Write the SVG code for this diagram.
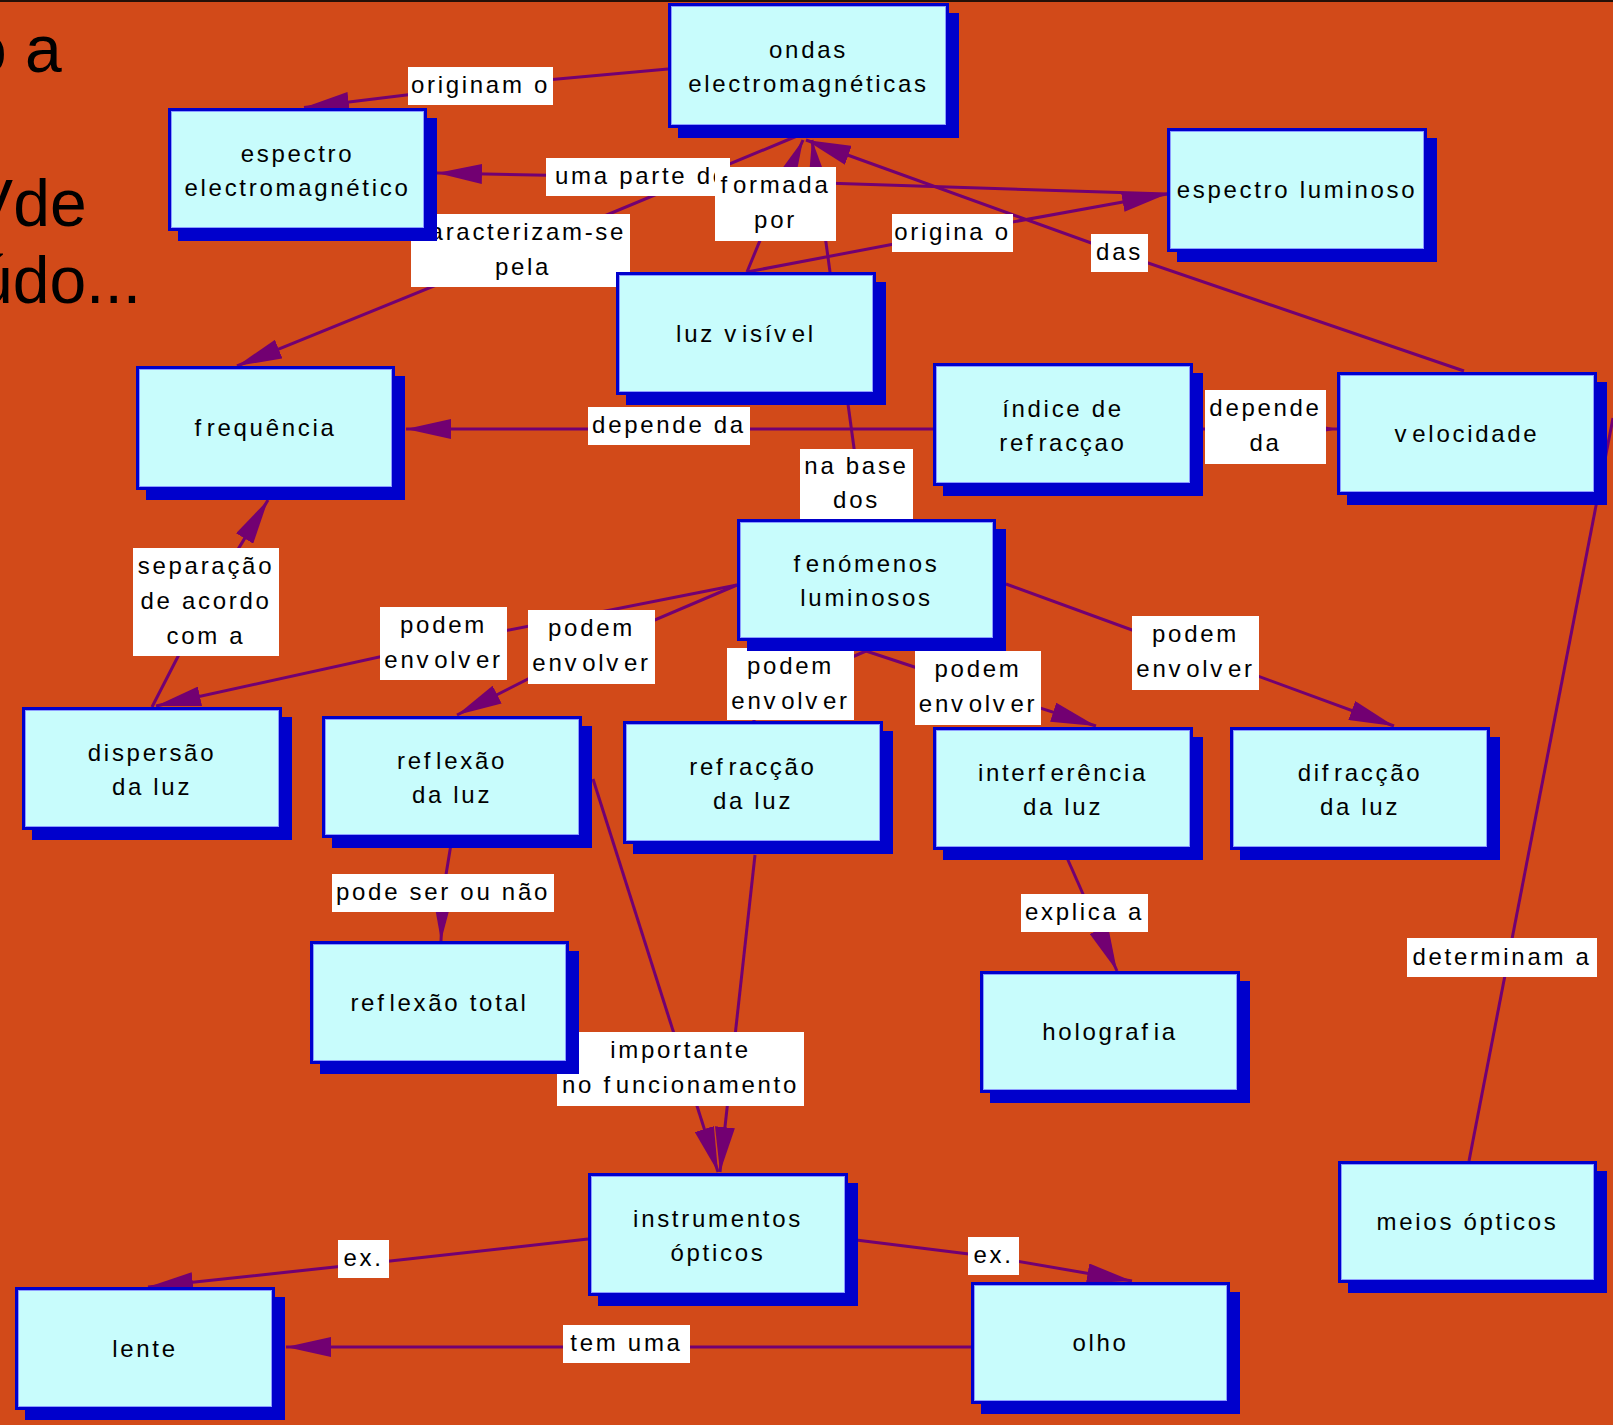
<svg xmlns="http://www.w3.org/2000/svg" width="1613" height="1425" viewBox="0 0 1613 1425">
<defs>
<style>
.bg{fill:#D24A19}
.conn{stroke:#720072;stroke-width:3;fill:none}
.lbl rect{fill:#FFFFFF}
.sh{fill:#0000CC}
.box{fill:#C8FCFC;stroke:#0000CC;stroke-width:3}
.hl{fill:none;stroke:#8C9CFF;stroke-width:1}
text{font-family:"Liberation Sans",Arial,sans-serif;font-size:24px;letter-spacing:2.7px;fill:#000;text-anchor:middle}
.title{font-size:66px;letter-spacing:0;text-anchor:start}
</style>
<marker id="arr" viewBox="0 0 45 20" refX="45" refY="10" markerWidth="45" markerHeight="20" markerUnits="userSpaceOnUse" orient="auto">
<path d="M0,0 L45,10 L0,20 Z" fill="#720072"/>
</marker>
</defs>
<rect class="bg" x="0" y="0" width="1613" height="1425"/>
<rect x="0" y="0" width="1613" height="2" fill="#231008"/>
<g id="title">
<text class="title" x="-30" y="72">o a</text>
<text class="title" x="-31" y="226">V<tspan dx="-18"> de</tspan></text>
<text class="title" x="-24" y="303">údo...</text>
</g>
<g id="connectors">
<polyline class="conn" points="668,69 480,86 304,107.5" marker-end="url(#arr)"/>
<polyline class="conn" points="1167,194 638,177 437,173" marker-end="url(#arr)"/>
<polyline class="conn" points="747,272 775,204 803,140" marker-end="url(#arr)"/>
<polyline class="conn" points="797,136 520,251 237,366" marker-end="url(#arr)"/>
<polyline class="conn" points="747,272 952,233 1167,194" marker-end="url(#arr)"/>
<polyline class="conn" points="1464,371 1119,253 806,140" marker-end="url(#arr)"/>
<polyline class="conn" points="857,470 812,140" marker-end="url(#arr)"/>
<polyline class="conn" points="933,429 406,429" marker-end="url(#arr)"/>
<polyline class="conn" points="1193,429 1337,429" marker-end="url(#arr)"/>
<polyline class="conn" points="152,707 206,602 268,500" marker-end="url(#arr)"/>
<polyline class="conn" points="737,585 443,643 156,706" marker-end="url(#arr)"/>
<polyline class="conn" points="737,585 591,647 457,715" marker-end="url(#arr)"/>
<polyline class="conn" points="866,651 790,684 753,721" marker-end="url(#arr)"/>
<polyline class="conn" points="866,651 978,688 1096,726" marker-end="url(#arr)"/>
<polyline class="conn" points="1006,584 1195,653 1394,726" marker-end="url(#arr)"/>
<polyline class="conn" points="452,838 443,893 441,941" marker-end="url(#arr)"/>
<polyline class="conn" points="593,779 718,1172" marker-end="url(#arr)"/>
<polyline class="conn" points="755,855 720,1172" marker-end="url(#arr)"/>
<polyline class="conn" points="588,1239 363,1264 148,1287" marker-end="url(#arr)"/>
<polyline class="conn" points="848,1239 993,1257 1132,1281" marker-end="url(#arr)"/>
<polyline class="conn" points="971,1347 286,1347" marker-end="url(#arr)"/>
<polyline class="conn" points="1064,851 1117,971" marker-end="url(#arr)"/>
<polyline class="conn" points="1469,1161 1613,418"/>
</g>
<g id="labels">
<g class="lbl" id="l-originam"><rect x="408" y="67" width="145" height="38"/><text x="480.5" y="93">originam o</text></g>
<g class="lbl" id="l-umaparte"><rect x="546" y="158" width="184" height="38"/><text x="555" y="184" style="text-anchor:start">uma parte do</text></g>
<g class="lbl" id="l-formada"><rect x="715" y="167" width="121" height="74"/><text><tspan x="775.5" y="193">f<tspan dx="3">ormada</tspan></tspan><tspan x="775.5" y="228">por</tspan></text></g>
<g class="lbl" id="l-caracterizam"><rect x="411" y="214" width="219" height="73"/><text><tspan x="520.5" y="240">caracterizam-se</tspan><tspan x="523" y="275">pela</tspan></text></g>
<g class="lbl" id="l-origina"><rect x="892" y="214" width="121" height="38"/><text x="952.5" y="240">origina o</text></g>
<g class="lbl" id="l-das"><rect x="1091" y="234" width="57" height="38"/><text x="1119.5" y="260">das</text></g>
<g class="lbl" id="l-dependeL"><rect x="588" y="407" width="162" height="38"/><text x="669" y="433">depende da</text></g>
<g class="lbl" id="l-dependeR"><rect x="1205" y="390" width="121" height="74"/><text><tspan x="1265.5" y="416">depende</tspan><tspan x="1265.5" y="451">da</tspan></text></g>
<g class="lbl" id="l-nabase"><rect x="800" y="449" width="113" height="70"/><text><tspan x="856.5" y="474">na base</tspan><tspan x="856.5" y="508">dos</tspan></text></g>
<g class="lbl" id="l-separacao"><rect x="133" y="548" width="146" height="108"/><text><tspan x="206" y="574">separação</tspan><tspan x="206" y="609">de acordo</tspan><tspan x="206" y="644">com a</tspan></text></g>
<g class="lbl" id="l-podem1"><rect x="380" y="607" width="127" height="73"/><text><tspan x="443.5" y="633">podem</tspan><tspan x="443.5" y="668">env<tspan dx="3">olv</tspan><tspan dx="3">er</tspan></tspan></text></g>
<g class="lbl" id="l-podem2"><rect x="528" y="610" width="127" height="74"/><text><tspan x="591.5" y="636">podem</tspan><tspan x="591.5" y="671">env<tspan dx="3">olv</tspan><tspan dx="3">er</tspan></tspan></text></g>
<g class="lbl" id="l-podem3"><rect x="727" y="648" width="127" height="72"/><text><tspan x="790.5" y="674">podem</tspan><tspan x="790.5" y="709">env<tspan dx="3">olv</tspan><tspan dx="3">er</tspan></tspan></text></g>
<g class="lbl" id="l-podem4"><rect x="915" y="651" width="126" height="74"/><text><tspan x="978" y="677">podem</tspan><tspan x="978" y="712">env<tspan dx="3">olv</tspan><tspan dx="3">er</tspan></tspan></text></g>
<g class="lbl" id="l-podem5"><rect x="1132" y="616" width="127" height="74"/><text><tspan x="1195.5" y="642">podem</tspan><tspan x="1195.5" y="677">env<tspan dx="3">olv</tspan><tspan dx="3">er</tspan></tspan></text></g>
<g class="lbl" id="l-podeser"><rect x="332" y="874" width="222" height="38"/><text x="443" y="900">pode ser ou não</text></g>
<g class="lbl" id="l-explica"><rect x="1021" y="894" width="127" height="38"/><text x="1084.5" y="920">explica a</text></g>
<g class="lbl" id="l-determinam"><rect x="1407" y="938" width="190" height="39"/><text x="1502" y="965">determinam a</text></g>
<g class="lbl" id="l-importante"><rect x="557" y="1032" width="247" height="74"/><text><tspan x="680.5" y="1058">importante</tspan><tspan x="680.5" y="1093">no f<tspan dx="3">uncionamento</tspan></tspan></text></g>
<g class="lbl" id="l-exL"><rect x="338" y="1240" width="51" height="38"/><text x="363.5" y="1266">ex.</text></g>
<g class="lbl" id="l-exR"><rect x="968" y="1237" width="51" height="38"/><text x="993.5" y="1263">ex.</text></g>
<g class="lbl" id="l-temuma"><rect x="563" y="1325" width="127" height="38"/><text x="626.5" y="1351">tem uma</text></g>
</g>
<g id="nodes">
<g id="n-ondas"><rect class="sh" x="678" y="13" width="281" height="125"/><rect class="box" x="669.5" y="4.5" width="278" height="122"/><rect class="hl" x="671.5" y="6.5" width="274" height="118"/><text><tspan x="808.5" y="57.5">ondas</tspan><tspan x="808.5" y="91.5">electromagnéticas</tspan></text></g>
<g id="n-espEM"><rect class="sh" x="178" y="118" width="259" height="123"/><rect class="box" x="169.5" y="109.5" width="256" height="120"/><rect class="hl" x="171.5" y="111.5" width="252" height="116"/><text><tspan x="297.5" y="161.5">espectro</tspan><tspan x="297.5" y="195.5">electromagnético</tspan></text></g>
<g id="n-espLum"><rect class="sh" x="1177" y="138" width="260" height="124"/><rect class="box" x="1168.5" y="129.5" width="257" height="121"/><rect class="hl" x="1170.5" y="131.5" width="253" height="117"/><text x="1297" y="198">espectro luminoso</text></g>
<g id="n-luz"><rect class="sh" x="626" y="282" width="260" height="123"/><rect class="box" x="617.5" y="273.5" width="257" height="120"/><rect class="hl" x="619.5" y="275.5" width="253" height="116"/><text x="746" y="341.5">luz v<tspan dx="3">isív</tspan><tspan dx="3">el</tspan></text></g>
<g id="n-freq"><rect class="sh" x="146" y="376" width="259" height="124"/><rect class="box" x="137.5" y="367.5" width="256" height="121"/><rect class="hl" x="139.5" y="369.5" width="252" height="117"/><text x="265.5" y="436">f<tspan dx="3">requência</tspan></text></g>
<g id="n-indice"><rect class="sh" x="943" y="373" width="260" height="123"/><rect class="box" x="934.5" y="364.5" width="257" height="120"/><rect class="hl" x="936.5" y="366.5" width="253" height="116"/><text><tspan x="1063" y="416.5">índice de</tspan><tspan x="1063" y="450.5">ref<tspan dx="3">racçao</tspan></tspan></text></g>
<g id="n-veloc"><rect class="sh" x="1347" y="382" width="260" height="123"/><rect class="box" x="1338.5" y="373.5" width="257" height="120"/><rect class="hl" x="1340.5" y="375.5" width="253" height="116"/><text x="1467" y="441.5">v<tspan dx="3">elocidade</tspan></text></g>
<g id="n-fen"><rect class="sh" x="747" y="529" width="259" height="122"/><rect class="box" x="738.5" y="520.5" width="256" height="119"/><rect class="hl" x="740.5" y="522.5" width="252" height="115"/><text><tspan x="866.5" y="572">f<tspan dx="3">enómenos</tspan></tspan><tspan x="866.5" y="606">luminosos</tspan></text></g>
<g id="n-disp"><rect class="sh" x="32" y="717" width="260" height="123"/><rect class="box" x="23.5" y="708.5" width="257" height="120"/><rect class="hl" x="25.5" y="710.5" width="253" height="116"/><text><tspan x="152" y="760.5">dispersão</tspan><tspan x="152" y="794.5">da luz</tspan></text></g>
<g id="n-refl"><rect class="sh" x="332" y="726" width="260" height="122"/><rect class="box" x="323.5" y="717.5" width="257" height="119"/><rect class="hl" x="325.5" y="719.5" width="253" height="115"/><text><tspan x="452" y="769">ref<tspan dx="3">lexão</tspan></tspan><tspan x="452" y="803">da luz</tspan></text></g>
<g id="n-refr"><rect class="sh" x="633" y="731" width="260" height="123"/><rect class="box" x="624.5" y="722.5" width="257" height="120"/><rect class="hl" x="626.5" y="724.5" width="253" height="116"/><text><tspan x="753" y="774.5">ref<tspan dx="3">racção</tspan></tspan><tspan x="753" y="808.5">da luz</tspan></text></g>
<g id="n-interf"><rect class="sh" x="943" y="737" width="260" height="123"/><rect class="box" x="934.5" y="728.5" width="257" height="120"/><rect class="hl" x="936.5" y="730.5" width="253" height="116"/><text><tspan x="1063" y="780.5">interf<tspan dx="3">erência</tspan></tspan><tspan x="1063" y="814.5">da luz</tspan></text></g>
<g id="n-difr"><rect class="sh" x="1240" y="737" width="260" height="123"/><rect class="box" x="1231.5" y="728.5" width="257" height="120"/><rect class="hl" x="1233.5" y="730.5" width="253" height="116"/><text><tspan x="1360" y="780.5">dif<tspan dx="3">racção</tspan></tspan><tspan x="1360" y="814.5">da luz</tspan></text></g>
<g id="n-reflTot"><rect class="sh" x="320" y="951" width="259" height="123"/><rect class="box" x="311.5" y="942.5" width="256" height="120"/><rect class="hl" x="313.5" y="944.5" width="252" height="116"/><text x="439.5" y="1010.5">ref<tspan dx="3">lexão total</tspan></text></g>
<g id="n-holo"><rect class="sh" x="990" y="981" width="260" height="122"/><rect class="box" x="981.5" y="972.5" width="257" height="119"/><rect class="hl" x="983.5" y="974.5" width="253" height="115"/><text x="1110" y="1040">holograf<tspan dx="3">ia</tspan></text></g>
<g id="n-instr"><rect class="sh" x="598" y="1183" width="260" height="123"/><rect class="box" x="589.5" y="1174.5" width="257" height="120"/><rect class="hl" x="591.5" y="1176.5" width="253" height="116"/><text><tspan x="718" y="1226.5">instrumentos</tspan><tspan x="718" y="1260.5">ópticos</tspan></text></g>
<g id="n-lente"><rect class="sh" x="25" y="1297" width="260" height="123"/><rect class="box" x="16.5" y="1288.5" width="257" height="120"/><rect class="hl" x="18.5" y="1290.5" width="253" height="116"/><text x="145" y="1356.5">lente</text></g>
<g id="n-olho"><rect class="sh" x="981" y="1292" width="259" height="122"/><rect class="box" x="972.5" y="1283.5" width="256" height="119"/><rect class="hl" x="974.5" y="1285.5" width="252" height="115"/><text x="1100.5" y="1351">olho</text></g>
<g id="n-meios"><rect class="sh" x="1348" y="1171" width="259" height="122"/><rect class="box" x="1339.5" y="1162.5" width="256" height="119"/><rect class="hl" x="1341.5" y="1164.5" width="252" height="115"/><text x="1467.5" y="1230">meios ópticos</text></g>
</g>
</svg>
